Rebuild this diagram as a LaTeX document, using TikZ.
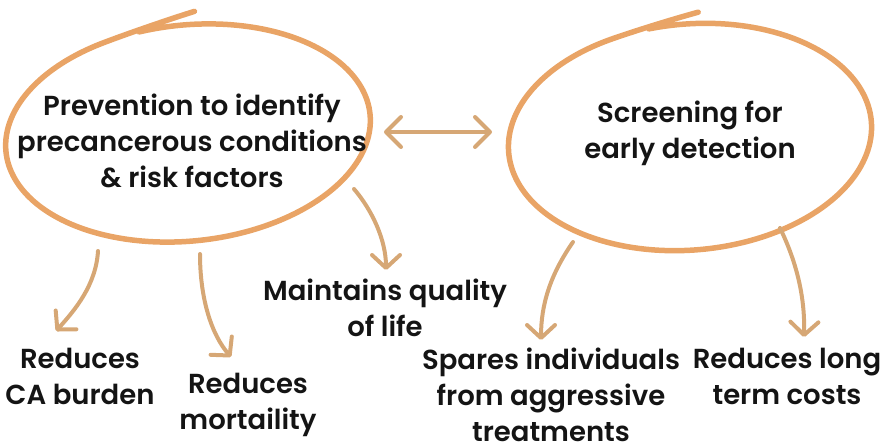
\documentclass[tikz,border=0pt]{standalone}
\usepackage{fontspec}
\setmainfont{Poppins SemiBold}
\usepackage{xcolor}
\usetikzlibrary{arrows.meta,calc}

\definecolor{ringor}{HTML}{E9A466}
\definecolor{arrtan}{HTML}{D6A775}
\definecolor{txtblk}{HTML}{141414}

\begin{document}
\begin{tikzpicture}[x=1pt,y=-1pt,
  lab/.style={align=center,text=txtblk,font=\fontsize{27.5}{36}\selectfont,inner sep=0pt},
  ring/.style={ringor,line width=5.5pt,line cap=round,line join=round},
  tip/.style={arrtan,line width=4pt,line cap=round,-{Straight Barb[length=13pt,width=28pt,round]}}]
  \useasboundingbox (0,0) rectangle (882,447);
  % anelli disegnati a mano
  \draw[ring] plot[domain=462:84,samples=150,smooth]
    ({188+183*cos(\x)*cos(6)-108*(1+0.12*pow(max(0,(114-\x)/30),2))*sin(\x)*sin(6)},
     {133-183*cos(\x)*sin(6)-108*(1+0.12*pow(max(0,(114-\x)/30),2))*sin(\x)*cos(6)});
  \draw[ring] plot[domain=460:84,samples=150,smooth]
    ({690+182*cos(\x)*cos(5)-113*(1+0.1*pow(max(0,(112-\x)/28),2))*sin(\x)*sin(5)},
     {137-182*cos(\x)*sin(5)-113*(1+0.1*pow(max(0,(112-\x)/28),2))*sin(\x)*cos(5)});
  % testi
  \node[lab] (prev) at (192,141) {Prevention to identify\\precancerous conditions\\\& risk factors};
  \node[lab] (screen) at (690,133) {Screening for\\early detection};
  \node[lab] (quality) at (385,308) {Maintains quality\\of life};
  \node[lab] (burden) at (80,376) {Reduces\\CA burden};
  \node[lab] (mort) at (248,405) {Reduces\\mortaility};
  \node[lab] (spares) at (551,395) {Spares individuals\\from aggressive\\treatments};
  \node[lab] (costs) at (787,376) {Reduces long\\term costs};
  % estremi delle frecce
  \coordinate (pL) at (384,132); \coordinate (sR) at (492,132);
  \coordinate (p1) at (98,251);  \coordinate (b1) at (56,331);
  \coordinate (p2) at (200,254); \coordinate (m1) at (231,357);
  \coordinate (p3) at (354,189); \coordinate (q1) at (386,270);
  \coordinate (s1) at (573,242); \coordinate (a1) at (541,340);
  \coordinate (s2) at (780,228); \coordinate (c1) at (804,337);
  \draw[tip,arrows={Straight Barb[length=15pt,width=30pt,round]-Straight Barb[length=15pt,width=30pt,round]}] (pL) -- (sR);
  \draw[tip] (p1) .. controls (96,285) and (75,310) .. (b1);
  \draw[tip] (p2) .. controls (200,300) and (212,335) .. (m1);
  \draw[tip] (p3) .. controls (372,210) and (386,240) .. (q1);
  \draw[tip] (s1) .. controls (550,275) and (541,305) .. (a1);
  \draw[tip] (s2) .. controls (798,265) and (805,300) .. (c1);
\end{tikzpicture}
\end{document}
